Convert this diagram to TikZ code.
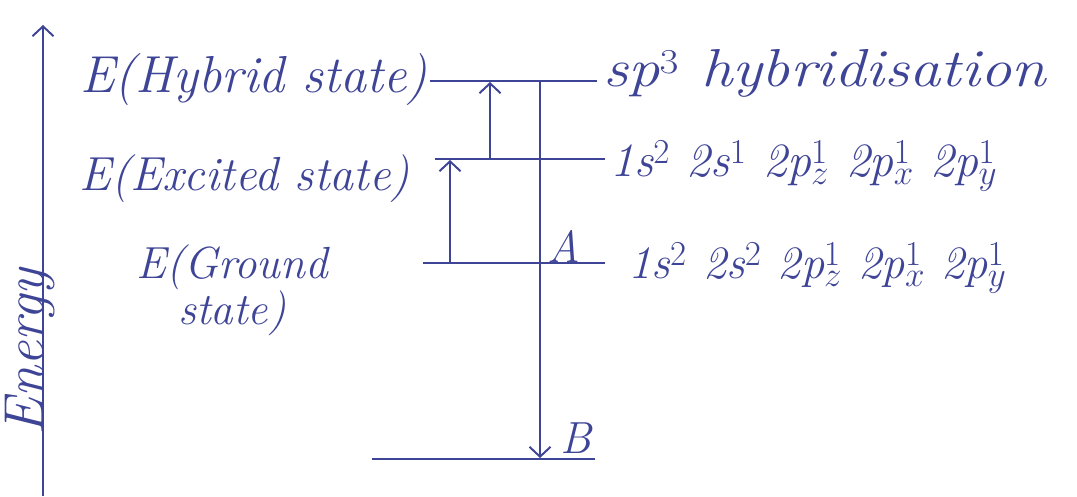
\documentclass[tikz,border=0pt]{standalone}
\usetikzlibrary{arrows.meta}
\definecolor{ink}{RGB}{62,68,150}
\newcommand{\hand}[1]{\fontsize{#1}{#1}\selectfont\itshape}
\tikzset{
  level/.style={draw=ink, line width=1.4pt},
  lbl/.style={text=ink, font=\hand{32}, inner sep=0pt},
  up/.style={draw=ink, line width=1.4pt, -{Straight Barb[length=7pt,width=15pt,line width=1.4pt]}},
}
\begin{document}
\begin{tikzpicture}[x=0.025cm, y=-0.025cm]
  \useasboundingbox (0,0) rectangle (1077,496);
  % energy axis
  \coordinate (ax0) at (43,496);
  \coordinate (ax1) at (43,25);
  \draw[up] (ax0) -- (ax1);
  \node[lbl, font=\hand{40}, rotate=90] (en) at (30,352) {Energy};
  % levels
  \coordinate (hyL) at (430,81);  \coordinate (hyR) at (597,81);
  \coordinate (exL) at (435,159); \coordinate (exR) at (605,159);
  \coordinate (grL) at (423,263); \coordinate (grR) at (605,263);
  \coordinate (loL) at (372,459); \coordinate (loR) at (595,459);
  \draw[level] (hyL) -- (hyR);
  \draw[level] (exL) -- (exR);
  \draw[level] (grL) -- (grR);
  \draw[level] (loL) -- (loR);
  % transitions
  \coordinate (g1) at (450,263); \coordinate (e1) at (450,160);
  \coordinate (e2) at (490,159); \coordinate (h2) at (490,82);
  \coordinate (vT) at (540,81);  \coordinate (vB) at (540,458);
  \draw[up] (g1) -- (e1);
  \draw[up] (e2) -- (h2);
  \draw[up] (vT) -- (vB);
  \node[lbl] (A) at (564,246) {A};
  \node[lbl] (B) at (576,438) {B};
  % state labels
  \node[lbl, font=\hand{37}, anchor=base east] (hyT) at (428,92) {E(Hybrid state)};
  \node[lbl, font=\hand{34}, anchor=base east] (exT) at (410,190) {E(Excited state)};
  \node[lbl, align=center] (grT) at (232,290) {E(Ground\\ state)};
  % configurations
  \node[lbl, font=\hand{38}, anchor=base west] (hyC) at (603,86) {\scalebox{1.17}[1]{sp$^3$ hybridisation}};
  \node[lbl, font=\hand{34}, anchor=base west] (exC) at (610,176) {1s$^2$ 2s$^1$ 2p$_z^1$ 2p$_x^1$ 2p$_y^1$};
  \node[lbl, font=\hand{33}, anchor=base west] (grC) at (628,278) {1s$^2$ 2s$^2$ 2p$_z^1$ 2p$_x^1$ 2p$_y^1$};
\end{tikzpicture}
\end{document}
